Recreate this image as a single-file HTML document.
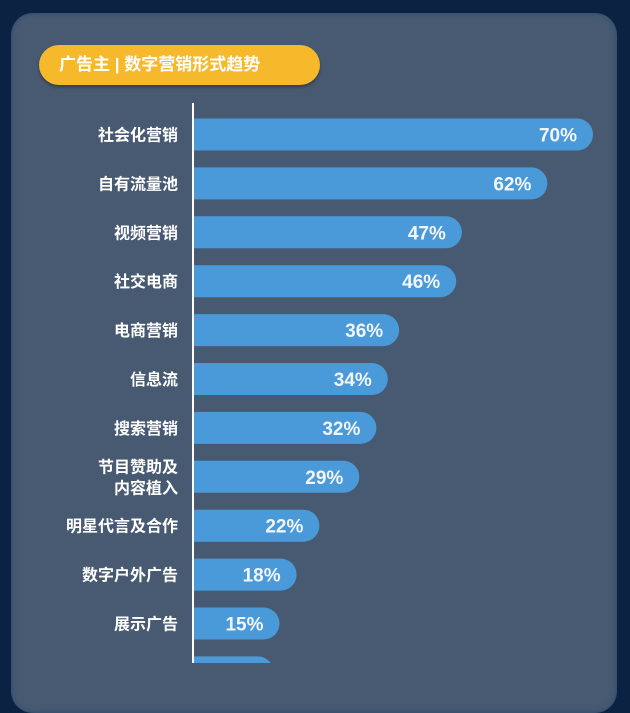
<!DOCTYPE html>
<html><head><meta charset="utf-8"><style>
html,body{margin:0;padding:0;background:#0c2243;width:630px;height:663px;overflow:hidden}
#panel{position:absolute;left:11px;top:13px;width:606px;height:700px;background:#485a72;border-radius:22px;box-shadow:0 0 6px #2a4a70 inset}
#title{position:absolute;left:39px;top:45px;width:281px;height:40px;background:#f6b92c;border-radius:20px;color:#fff;font:bold 17px "Liberation Sans","Noto Sans CJK SC",sans-serif;line-height:40px;box-shadow:0 2px 3px rgba(0,0,0,.35)}
#title span{position:absolute;left:20px}
</style></head><body>
<div id="panel"></div>
<div id="title"><span>广告主 | 数字营销形式趋势</span></div>
<svg id="chart" width="630" height="663" style="position:absolute;left:0;top:0"></svg>
<script>
const categories=["社会化营销","自有流量池","视频营销","社交电商","电商营销","信息流","搜索营销","节目赞助及|内容植入","明星代言及合作","数字户外广告","展示广告","其他"];
const values=[70,62,47,46,36,34,32,29,22,18,15,14];
const valueLabels=["70%","62%","47%","46%","36%","34%","32%","29%","22%","18%","15%","14%"];
const NS="http://www.w3.org/2000/svg";
const svg=document.getElementById('chart');
const x0=194, pxPer=5.7, y0=134.5, step=48.9, bh=32;
const xs=v=>x0+v*pxPer;
const ys=i=>y0+i*step;
function mk(t,a){const e=document.createElementNS(NS,t);for(const k in a)e.setAttribute(k,a[k]);svg.appendChild(e);return e;}
categories.forEach((c,i)=>{
  const cy=ys(i), w=xs(values[i])-x0;
  const r=mk('path',{d:`M${x0} ${cy-bh/2} H${x0+w-bh/2} A${bh/2} ${bh/2} 0 0 1 ${x0+w-bh/2} ${cy+bh/2} H${x0} Z`,fill:'#4a9ad9'});
  
  
  const t=mk('text',{x:x0+w-16,y:cy+7,'text-anchor':'end',fill:'#f2f6fb','font-size':'19','font-weight':'bold','font-family':'Liberation Sans, sans-serif'});
  t.textContent=valueLabels[i];
  
  
  const parts=c.split('|');
  parts.forEach((p,j)=>{
    const l=mk('text',{x:178,y:cy+6+(j-(parts.length-1)/2)*21,'text-anchor':'end',fill:'#fff','font-size':'16','font-weight':'bold','font-family':'Liberation Sans, Noto Sans CJK SC, sans-serif'});
    l.textContent=p;
    
    
  });
});
const ax=mk('line',{x1:193,y1:103,x2:193,y2:663,stroke:'#fff','stroke-width':'2'});


</script>
</body></html>
